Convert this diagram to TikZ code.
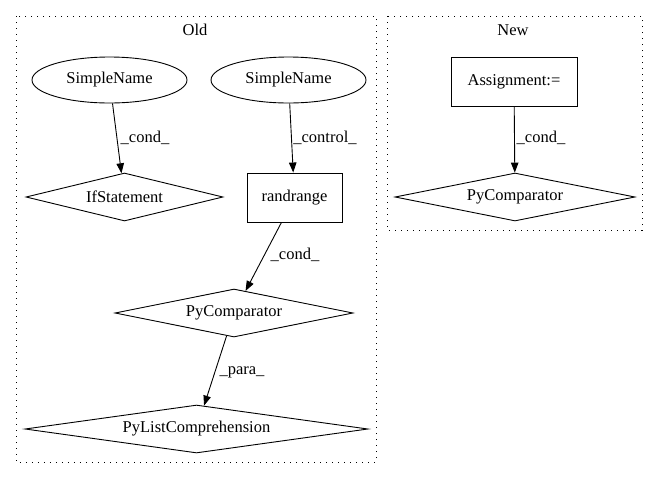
\documentclass[tikz,border=0pt]{standalone}
\usepackage{fontspec}
\setmainfont{Liberation Serif}
\usetikzlibrary{shapes.geometric,arrows.meta}
\begin{document}
\begin{tikzpicture}[x=1pt,y=-1pt,
  every node/.style={font=\fontsize{16.5}{19}\selectfont},
  ell/.style={draw,ellipse,line width=0.9pt,inner sep=0pt,minimum width=155pt,minimum height=46pt},
  boxnode/.style={draw,rectangle,line width=0.9pt,inner sep=0pt},
  dia/.style={draw,diamond,aspect=6,line width=0.9pt,inner sep=0pt},
  lbl/.style={inner sep=0pt},
  cluster/.style={draw,line width=1pt,dash pattern=on 1.3pt off 4.7pt},
  arr/.style={-{Triangle[length=10pt,width=7.5pt]},line width=0.9pt}]
\useasboundingbox (0,0) rectangle (659,480);
% clusters
\draw[cluster] (16,16) rectangle (376,462);
\draw[cluster] (387,16) rectangle (642,230);
\node[lbl] (oldlbl) at (195,30) {Old};
\node[lbl] (newlbl) at (513,30) {New};
% nodes
\node[ell] (sn1) at (109.5,80) {SimpleName};
\node[ell] (sn2) at (288.5,80) {SimpleName};
\node[dia,minimum width=197pt,minimum height=48pt] (ifs) at (124.5,197) {IfStatement};
\node[boxnode,minimum width=95pt,minimum height=49pt] (rr) at (294.5,197.5) {randrange};
\node[dia,minimum width=238pt,minimum height=48pt] (pc1) at (234,313) {PyComparator};
\node[dia,minimum width=343pt,minimum height=48pt] (plc) at (196.5,429) {PyListComprehension};
\node[boxnode,minimum width=126pt,minimum height=49pt] (asg) at (514,81.5) {Assignment:=};
\node[dia,minimum width=240pt,minimum height=48pt] (pc2) at (515,197) {PyComparator};
% edges
\draw[arr] (sn1) -- (ifs);
\draw[arr] (sn2) -- (rr);
\draw[arr] (rr) -- (pc1);
\draw[arr] (pc1) -- (plc);
\draw[arr] (asg) -- (pc2);
% edge labels
\node[lbl] (l1) at (145,138) {\_cond\_};
\node[lbl] (l2) at (325,138) {\_control\_};
\node[lbl] (l3) at (295,255) {\_cond\_};
\node[lbl] (l4) at (242,372) {\_para\_};
\node[lbl] (l5) at (541,138) {\_cond\_};
\end{tikzpicture}
\end{document}
